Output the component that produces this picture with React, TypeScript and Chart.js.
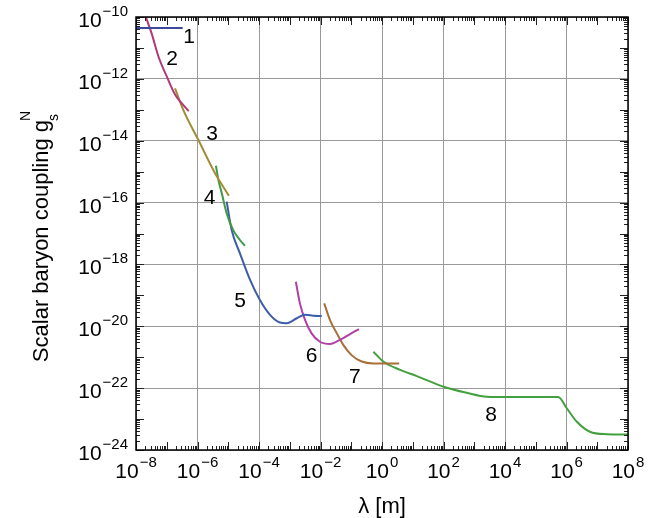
import React, { useEffect, useRef } from 'react';
import { Chart, registerables } from 'chart.js';

Chart.register(...registerables);

const FONT = "'Liberation Sans', Arial, Helvetica, sans-serif";

// ---------- data ----------
const X_TICK_EXPONENTS = [-8, -6, -4, -2, 0, 2, 4, 6, 8];
const Y_TICK_EXPONENTS = [-24, -22, -20, -18, -16, -14, -12, -10];
const X_TITLE = 'λ [m]';
const Y_TITLE = 'Scalar baryon coupling g';
const Y_TITLE_SUP = 'N';
const Y_TITLE_SUB = 's';

const curve1X = [1e-8, 3.3e-7];
const curve1Y = [4.4e-11, 4.4e-11];
const curve2X = [2.1e-8, 3.2e-8, 5.4e-8, 1.0e-7, 1.9e-7, 3.1e-7, 5.2e-7];
const curve2Y = [1.0e-10, 3.0e-11, 5.2e-12, 1.2e-12, 3.0e-13, 1.6e-13, 9.1e-14];
const curve3X = [1.86e-7, 3.47e-7, 1.07e-6, 3.72e-6, 1.05e-5];
const curve3Y = [4.9e-13, 9.8e-14, 1.05e-14, 8.9e-16, 1.66e-16];
const curve4X = [3.98e-6, 4.79e-6, 6.17e-6, 8.91e-6, 1.45e-5, 2.4e-5, 3.47e-5];
const curve4Y = [1.55e-15, 5.37e-16, 2.0e-16, 4.47e-17, 1.29e-17, 6.17e-18, 3.98e-18];
const curve5X = [8.91e-6, 1.29e-5, 2.4e-5, 5.13e-5, 1.07e-4, 2.29e-4, 4.79e-4, 7.94e-4, 1.7e-3, 3.16e-3, 5.89e-3, 1.1e-2];
const curve5Y = [1.07e-16, 1.29e-17, 2.29e-18, 3.16e-19, 7.08e-20, 2.34e-20, 1.32e-20, 1.26e-20, 1.82e-20, 2.34e-20, 2.19e-20, 2.14e-20];
const curve6X = [1.58e-3, 2.14e-3, 3.16e-3, 5.13e-3, 9.55e-3, 2.04e-2, 4.27e-2, 9.12e-2, 1.78e-1];
const curve6Y = [2.75e-19, 5.5e-20, 1.58e-20, 5.89e-21, 3.16e-21, 2.69e-21, 3.63e-21, 5.62e-21, 8.13e-21];
const curve7X = [1.32e-2, 2.04e-2, 3.39e-2, 5.5e-2, 1.02e-1, 2.19e-1, 5.25e-1, 1.41, 3.63];
const curve7Y = [5.5e-20, 1.58e-20, 5.89e-21, 2.51e-21, 1.17e-21, 7.24e-22, 6.31e-22, 6.31e-22, 6.31e-22];
const curve8X = [0.525, 1.1, 3.89, 13.5, 112, 562, 2510, 11500, 83200, 537000, 1.02e6, 2.14e6, 5.75e6, 2.04e7, 1e8];
const curve8Y = [1.51e-21, 7.24e-22, 3.89e-22, 2.45e-22, 1.07e-22, 7.08e-23, 5.25e-23, 5.13e-23, 5.13e-23, 5.13e-23, 2.24e-23, 8.32e-24, 3.89e-24, 3.24e-24, 3.16e-24];

const CURVE_NAMES = ['1', '2', '3', '4', '5', '6', '7', '8'];
const CURVE_XS = [curve1X, curve2X, curve3X, curve4X, curve5X, curve6X, curve7X, curve8X];
const CURVE_YS = [curve1Y, curve2Y, curve3Y, curve4Y, curve5Y, curve6Y, curve7Y, curve8Y];
const CURVE_COLORS = ['#3d4a9c', '#b03a78', '#a48c36', '#3f9a46', '#3e5da8', '#b041a6', '#a86f3b', '#44a03f'];

// curve number annotations (data coordinates)
const LABEL_X = [5.28e-7, 1.48e-7, 2.96e-6, 2.45e-6, 2.41e-5, 5.09e-3, 0.132, 3510];
const LABEL_Y = [2.52e-11, 4.91e-12, 1.85e-14, 1.63e-16, 7.36e-20, 1.22e-21, 2.66e-22, 1.52e-23];

const X_MIN_EXP = -8;
const X_MAX_EXP = 8;
const Y_MIN_EXP = -24;
const Y_MAX_EXP = -10;

function drawPow(ctx: CanvasRenderingContext2D, exp: number, x: number, baseline: number, align: 'right' | 'center') {
  const base = '10';
  const sup = (exp < 0 ? '\u2212' : '') + Math.abs(exp);
  ctx.font = `21px ${FONT}`;
  const bw = ctx.measureText(base).width;
  ctx.font = `15px ${FONT}`;
  const sw = ctx.measureText(sup).width;
  const gap = 1;
  const total = bw + gap + sw;
  const x0 = align === 'right' ? x - total : x - total / 2;
  ctx.textAlign = 'left';
  ctx.textBaseline = 'alphabetic';
  ctx.font = `21px ${FONT}`;
  ctx.fillText(base, x0, baseline);
  ctx.font = `15px ${FONT}`;
  ctx.fillText(sup, x0 + bw + gap, baseline - 11);
}

const axesPlugin = {
  id: 'customAxes',
  afterDraw(chart: any) {
    const ctx: CanvasRenderingContext2D = chart.ctx;
    const { left, right, top, bottom } = chart.chartArea;
    const xs = chart.scales.x;
    const ys = chart.scales.y;
    ctx.save();

    // minor / major ticks on all four sides, pointing inward
    ctx.strokeStyle = '#222';
    ctx.lineWidth = 1;
    ctx.beginPath();
    for (let d = X_MIN_EXP; d <= X_MAX_EXP; d++) {
      for (let m = 1; m <= 9; m++) {
        if (d === X_MAX_EXP && m > 1) break;
        const px = Math.round(xs.getPixelForValue(m * Math.pow(10, d))) + 0.5;
        const len = m === 1 ? 8 : 4;
        ctx.moveTo(px, bottom);
        ctx.lineTo(px, bottom - len);
        ctx.moveTo(px, top);
        ctx.lineTo(px, top + len);
      }
    }
    for (let d = Y_MIN_EXP; d <= Y_MAX_EXP; d++) {
      for (let m = 1; m <= 9; m++) {
        if (d === Y_MAX_EXP && m > 1) break;
        const py = Math.round(ys.getPixelForValue(m * Math.pow(10, d))) + 0.5;
        const len = m === 1 ? 8 : 4;
        ctx.moveTo(left, py);
        ctx.lineTo(left + len, py);
        ctx.moveTo(right, py);
        ctx.lineTo(right - len, py);
      }
    }
    ctx.stroke();

    // frame
    ctx.strokeStyle = '#000';
    ctx.lineWidth = 1.5;
    ctx.strokeRect(left, top, right - left, bottom - top);

    // tick labels
    ctx.fillStyle = '#000';
    for (const e of X_TICK_EXPONENTS) {
      const px = xs.getPixelForValue(Math.pow(10, e));
      drawPow(ctx, e, px, bottom + 28, 'center');
    }
    for (const e of Y_TICK_EXPONENTS) {
      const py = ys.getPixelForValue(Math.pow(10, e));
      drawPow(ctx, e, left - 8, py + 10, 'right');
    }

    // x title
    ctx.font = `22px ${FONT}`;
    ctx.textAlign = 'center';
    ctx.textBaseline = 'alphabetic';
    ctx.fillText(X_TITLE, (left + right) / 2, bottom + 63);

    // y title (rotated) with sub/superscript
    ctx.font = `22px ${FONT}`;
    const mw = ctx.measureText(Y_TITLE).width;
    ctx.font = `14px ${FONT}`;
    const ew = Math.max(ctx.measureText(Y_TITLE_SUP).width, ctx.measureText(Y_TITLE_SUB).width);
    const totalW = mw + 1 + ew;
    const cy = (top + bottom) / 2 + 2;
    ctx.save();
    ctx.translate(48, cy + totalW / 2);
    ctx.rotate(-Math.PI / 2);
    ctx.textAlign = 'left';
    ctx.font = `22px ${FONT}`;
    ctx.fillText(Y_TITLE, 0, 0);
    ctx.font = `14px ${FONT}`;
    ctx.fillText(Y_TITLE_SUP, mw - 1, -18);
    ctx.fillText(Y_TITLE_SUB, mw - 1, 10);
    ctx.restore();

    // curve numbers
    ctx.font = `21px ${FONT}`;
    ctx.textAlign = 'center';
    ctx.textBaseline = 'alphabetic';
    for (let i = 0; i < CURVE_NAMES.length; i++) {
      const px = xs.getPixelForValue(LABEL_X[i]);
      const py = ys.getPixelForValue(LABEL_Y[i]);
      ctx.fillText(CURVE_NAMES[i], px, py + 7.5);
    }

    ctx.restore();
  },
};

export default function App() {
  const canvasRef = useRef<HTMLCanvasElement | null>(null);

  useEffect(() => {
    document.body.style.margin = '0';
    const canvas = canvasRef.current;
    if (!canvas) return;

    const datasets = CURVE_NAMES.map((name, i) => ({
      label: name,
      data: CURVE_XS[i].map((x, j) => ({ x, y: CURVE_YS[i][j] })),
      borderColor: CURVE_COLORS[i],
      backgroundColor: CURVE_COLORS[i],
      borderWidth: 2,
      showLine: true,
      pointRadius: 0,
      cubicInterpolationMode: 'monotone' as const,
      fill: false,
    }));

    const chart = new Chart(canvas, {
      type: 'scatter',
      data: { datasets },
      options: {
        responsive: false,
        animation: false,
        maintainAspectRatio: false,
        layout: { padding: { top: 17, right: 35, left: 0, bottom: 0 } },
        plugins: {
          legend: { display: false },
          tooltip: { enabled: false },
          title: { display: false },
        },
        scales: {
          x: {
            type: 'logarithmic',
            min: Math.pow(10, X_MIN_EXP),
            max: Math.pow(10, X_MAX_EXP),
            position: 'bottom',
            ticks: { display: false },
            grid: { color: '#9a9a9a', lineWidth: 1, drawTicks: false },
            border: { display: false },
            afterBuildTicks: (scale: any) => {
              scale.ticks = X_TICK_EXPONENTS.map((e) => ({ value: Math.pow(10, e) }));
            },
            afterFit: (scale: any) => {
              scale.height = 68;
            },
          },
          y: {
            type: 'logarithmic',
            min: Math.pow(10, Y_MIN_EXP),
            max: Math.pow(10, Y_MAX_EXP),
            position: 'left',
            ticks: { display: false },
            grid: { color: '#9a9a9a', lineWidth: 1, drawTicks: false },
            border: { display: false },
            afterBuildTicks: (scale: any) => {
              scale.ticks = Y_TICK_EXPONENTS.map((e) => ({ value: Math.pow(10, e) }));
            },
            afterFit: (scale: any) => {
              scale.width = 136;
            },
          },
        },
      },
      plugins: [axesPlugin],
    });

    return () => chart.destroy();
  }, []);

  return (
    <div style={{ position: 'absolute', left: 0, top: 0, width: 663, height: 518, background: '#fff' }}>
      <canvas ref={canvasRef} width={663} height={518} style={{ display: 'block' }} />
    </div>
  );
}
